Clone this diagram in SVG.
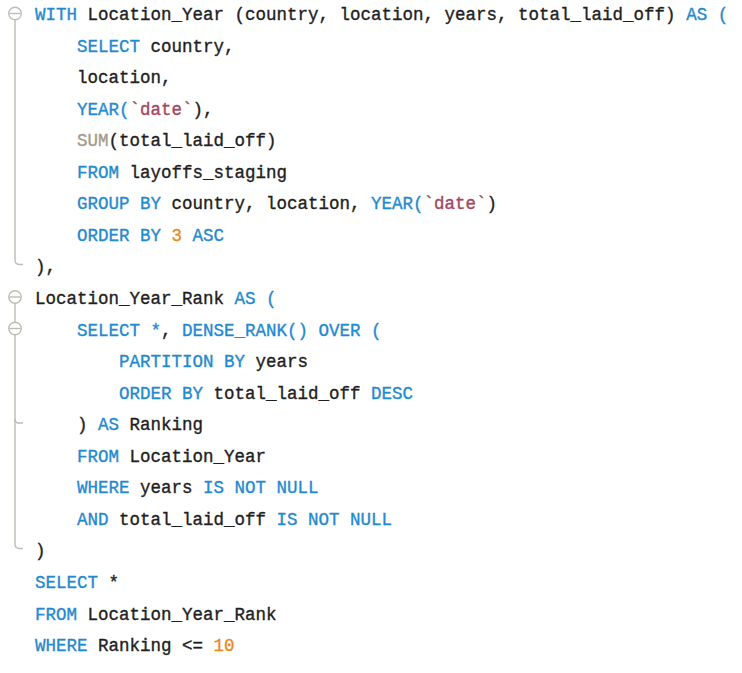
<svg xmlns="http://www.w3.org/2000/svg" width="742" height="673" viewBox="0 0 742 673">
<style>
text{font-family:"Liberation Mono","DejaVu Sans Mono",monospace;font-size:17.5px;fill:#1e1e1e;stroke:#1e1e1e;stroke-width:0.35;white-space:pre}
.k{fill:#1f8ad0;stroke:#1f8ad0}
.s{fill:#a3465f;stroke:#a3465f}
.n{fill:#e8891c;stroke:#e8891c}
.f{fill:#a39b8c;stroke:#a39b8c}
.g{fill:none;stroke:#bdbdb5;stroke-width:1.4}
</style>
<rect width="742" height="673" fill="#ffffff"/>
<g id="gutter">
<circle class="g" cx="15" cy="13.5" r="6.2"/>
<line class="g" x1="9.5" y1="13.5" x2="20.5" y2="13.5"/>
<path class="g" d="M15 19.7 V260 Q15 264.5 19.5 264.5 H23"/>
<circle class="g" cx="15" cy="297" r="6.2"/>
<line class="g" x1="9.5" y1="297" x2="20.5" y2="297"/>
<circle class="g" cx="15" cy="328.5" r="6.2"/>
<line class="g" x1="9.5" y1="328.5" x2="20.5" y2="328.5"/>
<line class="g" x1="15" y1="303.2" x2="15" y2="322.3"/>
<path class="g" d="M15 334.7 V544 Q15 548.5 19.5 548.5 H23"/>
<path class="g" d="M15 419 Q15 423 19 423 H23"/>
</g>
<g id="code" xml:space="preserve">
<text x="35" y="20"><tspan class="k">WITH</tspan> Location_Year (country, location, years, total_laid_off) <tspan class="k">AS (</tspan></text>
<text x="35" y="51.5">    <tspan class="k">SELECT</tspan> country,</text>
<text x="35" y="83.1">    location,</text>
<text x="35" y="114.6">    <tspan class="k">YEAR(</tspan><tspan class="s">`date`</tspan>),</text>
<text x="35" y="146.2">    <tspan class="f">SUM</tspan>(total_laid_off)</text>
<text x="35" y="177.7">    <tspan class="k">FROM</tspan> layoffs_staging</text>
<text x="35" y="209.3">    <tspan class="k">GROUP BY</tspan> country, location, <tspan class="k">YEAR(</tspan><tspan class="s">`date`</tspan>)</text>
<text x="35" y="240.8">    <tspan class="k">ORDER BY</tspan> <tspan class="n">3</tspan> <tspan class="k">ASC</tspan></text>
<text x="35" y="272.4">),</text>
<text x="35" y="304">Location_Year_Rank <tspan class="k">AS (</tspan></text>
<text x="35" y="335.5">    <tspan class="k">SELECT *</tspan>, <tspan class="k">DENSE_RANK() OVER (</tspan></text>
<text x="35" y="367.1">        <tspan class="k">PARTITION BY</tspan> years</text>
<text x="35" y="398.6">        <tspan class="k">ORDER BY</tspan> total_laid_off <tspan class="k">DESC</tspan></text>
<text x="35" y="430.2">    ) <tspan class="k">AS</tspan> Ranking</text>
<text x="35" y="461.7">    <tspan class="k">FROM</tspan> Location_Year</text>
<text x="35" y="493.3">    <tspan class="k">WHERE</tspan> years <tspan class="k">IS NOT NULL</tspan></text>
<text x="35" y="524.8">    <tspan class="k">AND</tspan> total_laid_off <tspan class="k">IS NOT NULL</tspan></text>
<text x="35" y="556.4">)</text>
<text x="35" y="588"><tspan class="k">SELECT</tspan> *</text>
<text x="35" y="619.5"><tspan class="k">FROM</tspan> Location_Year_Rank</text>
<text x="35" y="651"><tspan class="k">WHERE</tspan> Ranking &lt;= <tspan class="n">10</tspan></text>
</g>
</svg>
